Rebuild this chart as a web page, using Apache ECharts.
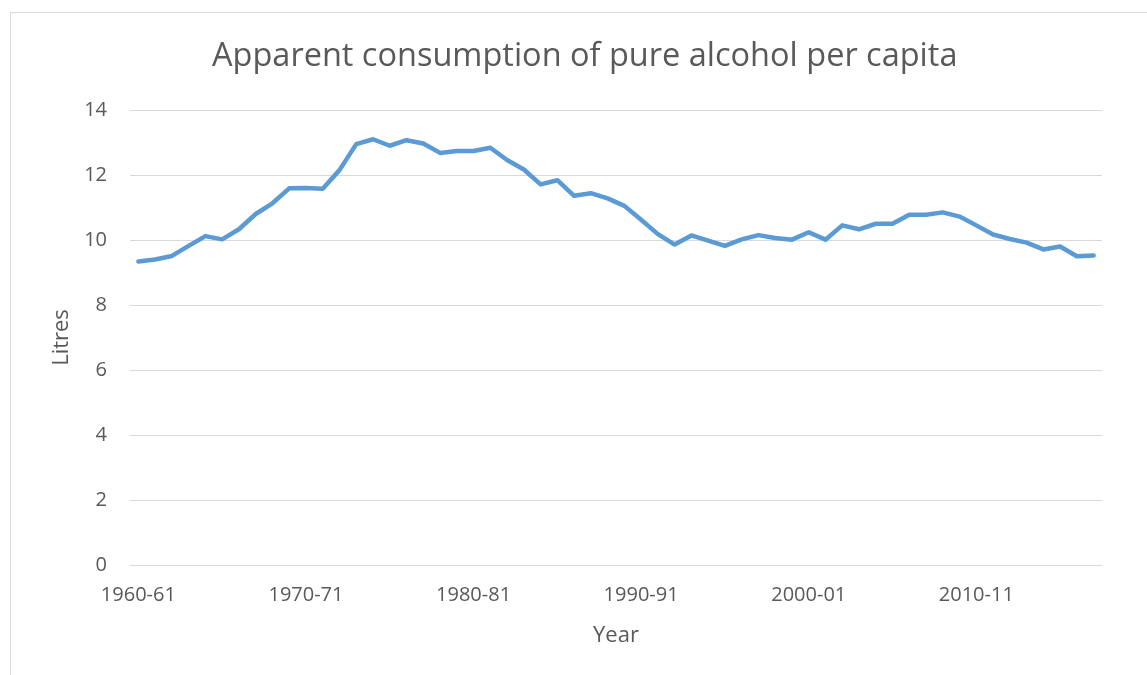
<!DOCTYPE html>
<html>
<head>
	<meta charset="utf-8">
	<title>Apparent consumption of pure alcohol per capita</title>
	<script src="https://cdn.jsdelivr.net/npm/echarts@6/dist/echarts.min.js"></script>
	<style>
		html, body { margin: 0; padding: 0; background: #fff; }
		#main { width: 1147px; height: 675px; }
	</style>
</head>
<body>
<div id="main"></div>
<script type="text/javascript">
// 财年
var years = ["1960-61", "1961-62", "1962-63", "1963-64", "1964-65", "1965-66", "1966-67", "1967-68", "1968-69", "1969-70",
	"1970-71", "1971-72", "1972-73", "1973-74", "1974-75", "1975-76", "1976-77", "1977-78", "1978-79", "1979-80",
	"1980-81", "1981-82", "1982-83", "1983-84", "1984-85", "1985-86", "1986-87", "1987-88", "1988-89", "1989-90",
	"1990-91", "1991-92", "1992-93", "1993-94", "1994-95", "1995-96", "1996-97", "1997-98", "1998-99", "1999-00",
	"2000-01", "2001-02", "2002-03", "2003-04", "2004-05", "2005-06", "2006-07", "2007-08", "2008-09", "2009-10",
	"2010-11", "2011-12", "2012-13", "2013-14", "2014-15", "2015-16", "2016-17", "2017-18"];

// 人均纯酒精消费 (升)
var litres = [9.34, 9.40, 9.51, 9.82, 10.12, 10.02, 10.33, 10.80, 11.13, 11.59,
	11.60, 11.58, 12.15, 12.95, 13.10, 12.90, 13.07, 12.97, 12.68, 12.74,
	12.74, 12.84, 12.46, 12.17, 11.71, 11.84, 11.36, 11.44, 11.28, 11.05,
	10.62, 10.18, 9.86, 10.14, 9.98, 9.82, 10.02, 10.15, 10.06, 10.01,
	10.24, 10.01, 10.45, 10.33, 10.50, 10.50, 10.78, 10.78, 10.85, 10.72,
	10.45, 10.17, 10.03, 9.92, 9.71, 9.80, 9.50, 9.52];

var yTicks = [0, 2, 4, 6, 8, 10, 12, 14];

var myChart = echarts.init(document.getElementById('main'));

var option = {
	animation: false,
	textStyle: { fontFamily: 'Open Sans' },
	// 图表边框
	graphic: [{
		type: 'rect',
		shape: { x: 10.5, y: 12.5, width: 1200, height: 700 },
		style: { fill: 'none', stroke: '#d9d9d9', lineWidth: 1 },
		silent: true
	}],
	title: {
		text: 'Apparent consumption of pure alcohol per capita',
		left: 207,
		top: 35,
		textStyle: { fontSize: 32.5, fontWeight: 'normal', color: '#595959', fontFamily: 'Open Sans' }
	},
	grid: { left: 130, right: 45, top: 110, bottom: 110 },
	xAxis: {
		type: 'category',
		data: years,
		boundaryGap: true,
		name: 'Year',
		nameLocation: 'middle',
		nameGap: 60,
		nameTextStyle: { fontSize: 22, color: '#595959' },
		axisLine: { show: false },
		axisTick: { show: false },
		axisLabel: { interval: 9, margin: 20, fontSize: 20, color: '#595959' }
	},
	yAxis: {
		type: 'value',
		min: yTicks[0],
		max: yTicks[yTicks.length - 1],
		interval: 2,
		name: 'Litres',
		nameLocation: 'middle',
		nameGap: 56,
		nameTextStyle: { fontSize: 22, color: '#595959' },
		axisLine: { show: false },
		axisTick: { show: false },
		axisLabel: { margin: 23, fontSize: 20, color: '#595959' },
		splitLine: { lineStyle: { color: '#d9d9d9', width: 1 } }
	},
	series: [{
		name: 'Litres',
		type: 'line',
		data: litres,
		showSymbol: false,
		symbol: 'none',
		lineStyle: { color: '#5b9bd5', width: 4.5, join: 'round', cap: 'round' }
	}]
};

myChart.setOption(option);
</script>
</body>
</html>
